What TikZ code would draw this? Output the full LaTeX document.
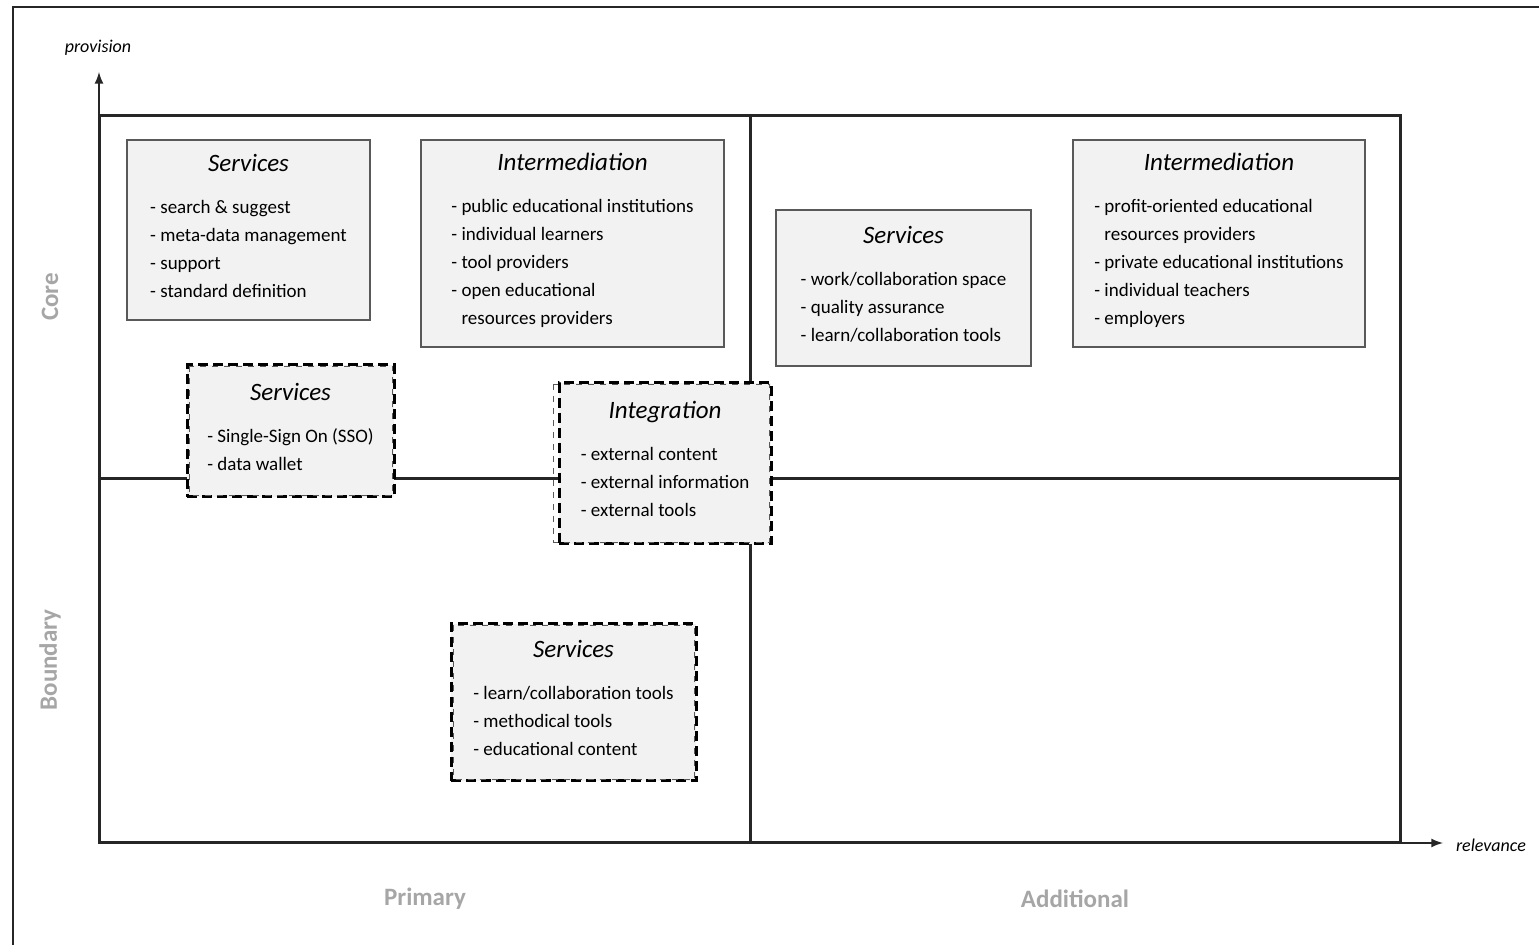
\documentclass[tikz,border=0pt]{standalone}
\usepackage{fontspec}
\setmainfont{Carlito}
\definecolor{boxfill}{HTML}{F2F2F2}
\definecolor{boxline}{HTML}{595959}
\definecolor{quadline}{HTML}{262626}
\definecolor{zonegray}{HTML}{A6A6A6}
\def\boxtitle#1{{\fontsize{12.5}{15}\selectfont\itshape #1}}
\tikzset{
  itembox/.style={draw=boxline, line width=0.8pt, fill=boxfill, align=center, inner sep=0pt, font=\fontsize{9.5}{14}\selectfont},
  openbox/.style={itembox, draw=black, line width=1.5pt, dash pattern=on 5pt off 2.5pt},
  zonelabel/.style={text=zonegray, font=\fontsize{12.5}{15}\selectfont\bfseries},
  axisname/.style={font=\fontsize{9}{11}\selectfont\itshape}
}

\begin{document}
\begin{tikzpicture}[x=0.5pt,y=-0.5pt]
			\useasboundingbox (0,0) rectangle (1539,945);
			%%%%% FRAME %%%%%
			\draw[quadline, line width=1pt] (13,945) -- (13,7) -- (1539,7);
			
			\coordinate (origin) at (99,843);
			\coordinate (ytip) at (99,72);
			\coordinate (xtip) at (1443,843);
			\draw[quadline, line width=1pt, -latex] (origin) -- (ytip);
			\draw[quadline, line width=1pt, -latex] (origin) -- (xtip);
			\draw[quadline, line width=1.5pt] (99,116) rectangle (1400,843);
			\draw[quadline, line width=1.5pt] (750,116) -- (750,843);
			\draw[quadline, line width=1.5pt] (99,479) -- (1400,479);
			
			\node[axisname] (provision) at (98,48) {provision};
			\node[axisname] (relevance) at (1491,845) {relevance};
			\node[zonelabel, rotate=90] (core) at (50,297) {Core};
			\node[zonelabel, rotate=90] (boundary) at (50,660) {Boundary};
			\node[zonelabel] (primary) at (425,899) {Primary};
			\node[zonelabel] (additional) at (1075,899) {Additional};
			
			%%%%% CORE BOXES %%%%%
			\node[itembox, minimum width=121.5pt, minimum height=90pt] (svcore) at (248.5,230) {\boxtitle{Services}\\[7pt]
				\begin{tabular}[t]{@{}l@{}}
				- search \& suggest\\
				- meta-data management\\
				- support\\
				- standard definition
				\end{tabular}};
			
			\node[itembox, minimum width=151.5pt, minimum height=103.5pt] (imcore) at (572.5,243.5) {\boxtitle{Intermediation}\\[7pt]
				\begin{tabular}[t]{@{}l@{}}
				- public educational institutions\\
				- individual learners\\
				- tool providers\\
				- open educational\\
				\phantom{- }resources providers
				\end{tabular}};
			
			\node[itembox, minimum width=127.5pt, minimum height=78pt] (svadd) at (903.5,288) {\boxtitle{Services}\\[7pt]
				\begin{tabular}[t]{@{}l@{}}
				- work/collaboration space\\
				- quality assurance\\
				- learn/collaboration tools
				\end{tabular}};
			
			\node[itembox, minimum width=146pt, minimum height=103.5pt] (imadd) at (1219,243.5) {\boxtitle{Intermediation}\\[7pt]
				\begin{tabular}[t]{@{}l@{}}
				- profit-oriented educational\\
				\phantom{- }resources providers\\
				- private educational institutions\\
				- individual teachers\\
				- employers
				\end{tabular}};
			
			%%%%% OPEN BOXES %%%%%
			\node[openbox, minimum width=103.5pt, minimum height=66pt] (svsso) at (290.5,431) {\boxtitle{Services}\\[7pt]
				\begin{tabular}[t]{@{}l@{}}
				- Single-Sign On (SSO)\\
				- data wallet
				\end{tabular}};
			\draw[boxline, line width=0.4pt, dashed] ([shift={(2pt,-1.5pt)}]svsso.north west) rectangle ([shift={(-1.5pt,1.5pt)}]svsso.south east);
			
			\node[openbox, minimum width=106pt, minimum height=80.5pt] (integ) at (665,463.5) {\boxtitle{Integration}\\[7pt]
				\begin{tabular}[t]{@{}l@{}}
				- external content\\
				- external information\\
				- external tools
				\end{tabular}};
			\draw[boxline, line width=0.4pt, dashed] ([shift={(-2pt,-1.5pt)}]integ.north west) rectangle ([shift={(-1.5pt,1.5pt)}]integ.south east);
			
			\node[openbox, minimum width=122.5pt, minimum height=78.5pt] (svbound) at (573.5,702.5) {\boxtitle{Services}\\[7pt]
				\begin{tabular}[t]{@{}l@{}}
				- learn/collaboration tools\\
				- methodical tools\\
				- educational content
				\end{tabular}};
			\draw[boxline, line width=0.4pt, dashed] ([shift={(2pt,-1.5pt)}]svbound.north west) rectangle ([shift={(-1.5pt,1.5pt)}]svbound.south east);
\end{tikzpicture}
\end{document}
